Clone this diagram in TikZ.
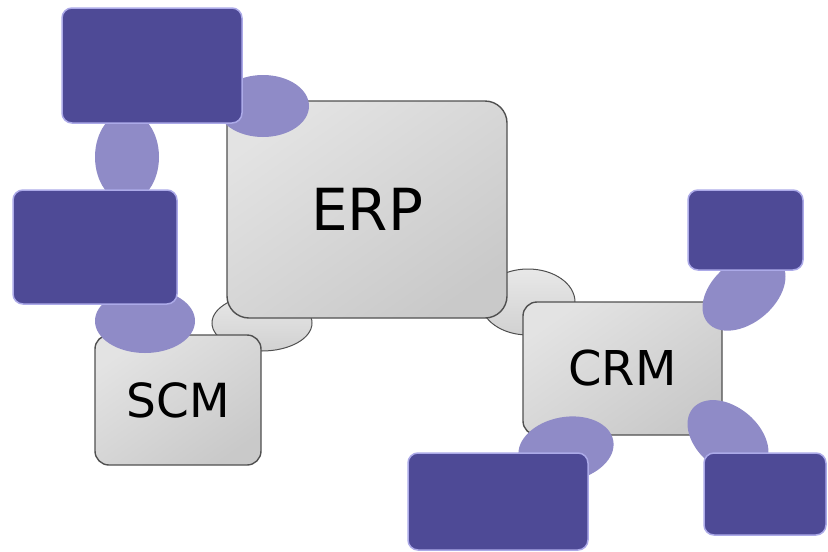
\documentclass[tikz,border=0pt]{standalone}
\usepackage{fontspec}
\setmainfont{DejaVu Sans}
\usetikzlibrary{shapes.geometric}
\definecolor{appfill}{RGB}{78,74,150}
\definecolor{apprim}{RGB}{172,170,232}
\definecolor{blobfill}{RGB}{143,139,199}
\definecolor{greyedge}{RGB}{80,80,80}
\begin{document}
\begin{tikzpicture}[x=1pt,y=-1pt,
    modbox/.style={draw=greyedge, line width=1.4pt, rounded corners=#1, top color=gray!22, bottom color=gray!42, shading angle=35},
    appbox/.style={fill=appfill, draw=apprim, line width=1.5pt, rounded corners=10pt},
    blob/.style={ellipse, fill=blobfill, inner sep=0pt},
    joint/.style={ellipse, draw=greyedge, line width=1pt, top color=gray!18, bottom color=gray!36, inner sep=0pt}]
                    \useasboundingbox (0,0) rectangle (828,552);
                    \node[joint, minimum width=100pt, minimum height=56pt] (jscm) at (262,323) {};
                    \node[joint, minimum width=94pt, minimum height=66pt] (jcrm) at (528,302) {};
                    \node[modbox=22pt, minimum width=280pt, minimum height=217pt] (erp) at (367,209.5) {\fontsize{58}{58}\selectfont ERP};
                    \node[modbox=14pt, minimum width=166pt, minimum height=130pt] (scm) at (178,400) {\fontsize{47}{47}\selectfont SCM};
                    \node[modbox=14pt, minimum width=199pt, minimum height=133pt] (crm) at (622.5,368.5) {\fontsize{48}{48}\selectfont CRM};
                    \node[blob, minimum width=92pt, minimum height=62pt] (b1) at (263,106) {};
                    \node[blob, minimum width=64pt, minimum height=90pt] (b2) at (127,157) {};
                    \node[blob, minimum width=100pt, minimum height=64pt] (b3) at (145,321) {};
                    \node[blob, minimum width=95pt, minimum height=62pt, rotate=40] (b4) at (744,292) {};
                    \node[blob, minimum width=96pt, minimum height=64pt, rotate=10] (b5) at (566,449) {};
                    \node[blob, minimum width=92pt, minimum height=62pt, rotate=-40] (b6) at (728,438) {};
                    \node[appbox, minimum width=180pt, minimum height=115pt] (app1) at (152,65.5) {};
                    \node[appbox, minimum width=164pt, minimum height=114pt] (app2) at (95,247) {};
                    \node[appbox, minimum width=115pt, minimum height=80pt] (app3) at (745.5,230) {};
                    \node[appbox, minimum width=180pt, minimum height=97pt] (app4) at (498,501.5) {};
                    \node[appbox, minimum width=122pt, minimum height=82pt] (app5) at (765,494) {};
                \end{tikzpicture}
\end{document}
